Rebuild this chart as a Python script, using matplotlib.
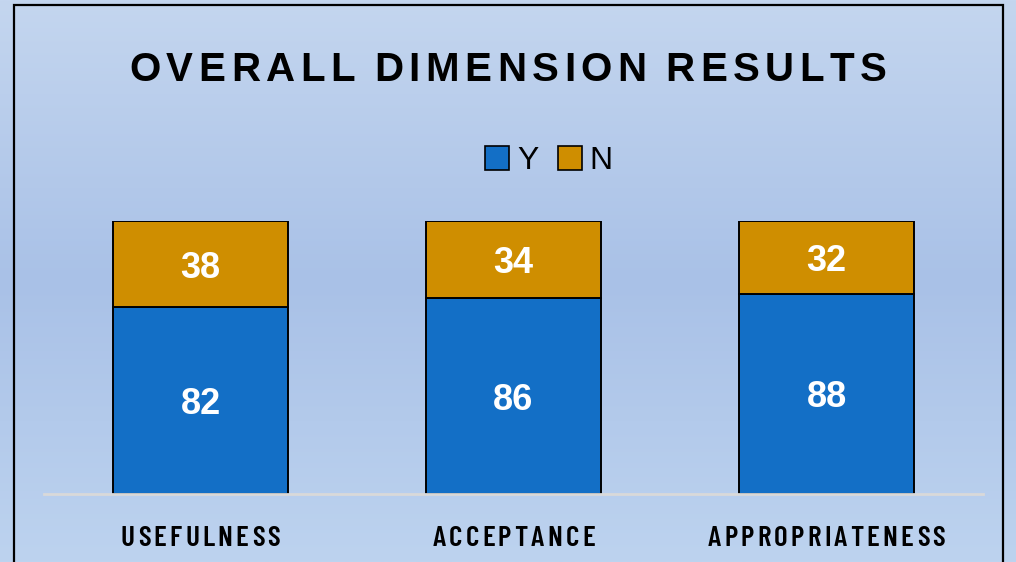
import numpy as np
import matplotlib
matplotlib.use('Agg')
import matplotlib.pyplot as plt
from matplotlib.patches import Rectangle, Patch
from matplotlib.colors import LinearSegmentedColormap
from matplotlib.font_manager import FontProperties, findfont

# ── data ──
categories = ['USEFULNESS', 'ACCEPTANCE', 'APPROPRIATENESS']
yes_vals = [82, 86, 88]
no_vals = [38, 34, 32]
series_names = ['Y', 'N']
title = 'OVERALL DIMENSION RESULTS'

C_Y = '#136FC6'
C_N = '#CF8E00'

W, H = 1016, 562
fig = plt.figure(figsize=(W / 100, H / 100), dpi=100)

def pick_font(names):
    for n in names:
        try:
            findfont(FontProperties(family=n), fallback_to_default=False)
            return n
        except Exception:
            pass
    return 'DejaVu Sans'

NARROW = pick_font(['Barlow Condensed', 'Archivo Narrow', 'Liberation Sans Narrow'])
SANS = pick_font(['Liberation Sans'])

# background gradient
bg = fig.add_axes([0, 0, 1, 1], zorder=-10)
grad_cmap = LinearSegmentedColormap.from_list(
    'bg', [(0, '#C4D6EF'), (0.5, '#A9C1E7'), (1, '#BDD3EF')])
bg.imshow(np.linspace(0, 1, 256).reshape(-1, 1), aspect='auto', cmap=grad_cmap,
          extent=[0, 1, 0, 1], origin='upper')
bg.set_xlim(0, 1); bg.set_ylim(0, 1)
bg.axis('off')
# outer border (bottom edge is cut off in the original)
bg.add_patch(Rectangle((13.5 / W, -0.05), (1003 - 13.5) / W, 1.05 - 5 / H,
                       fill=False, edgecolor='black', linewidth=1.6))

renderer = fig.canvas.get_renderer()

def tracked_text(xc, y_base, s, track, prop):
    """draw text letter by letter with extra letter spacing (pixel coords from top-left)"""
    widths = []
    for c in s:
        if c == ' ':
            widths.append(prop.get_size_in_points() * 0.28)
        else:
            widths.append(renderer.get_text_width_height_descent(c, prop, ismath=False)[0])
    total = sum(widths) + track * (len(s) - 1)
    xx = xc - total / 2
    for c, w in zip(s, widths):
        if c != ' ':
            fig.text(xx / W, 1 - y_base / H, c, fontproperties=prop,
                     ha='left', va='baseline', color='black')
        xx += w + track

# title
tracked_text(508, 81, title, 5.5, FontProperties(family=SANS, weight='bold', size=29))

# main axes: baseline at y=494px, value 120 at y=221px, x from 44 to 983px
ax = fig.add_axes([44 / W, (H - 494) / H, (983 - 44) / W, (494 - 221) / H])
ax.patch.set_alpha(0)
x = np.arange(len(categories))
bw = 0.56
ax.bar(x, yes_vals, bw, color=C_Y, edgecolor='black', linewidth=1.4, label=series_names[0])
ax.bar(x, no_vals, bw, bottom=yes_vals, color=C_N, edgecolor='black', linewidth=1.4,
       label=series_names[1])

vprop = FontProperties(family=SANS, weight='bold', size=26)
for i in range(len(categories)):
    ax.text(x[i], yes_vals[i] / 2, str(yes_vals[i]), ha='center', va='center_baseline',
            color='white', fontproperties=vprop)
    ax.text(x[i], yes_vals[i] + no_vals[i] / 2, str(no_vals[i]), ha='center',
            va='center_baseline', color='white', fontproperties=vprop)

ax.set_xlim(-0.5, 2.5)
ax.set_ylim(0, 120)
for s in ['top', 'left', 'right']:
    ax.spines[s].set_visible(False)
ax.spines['bottom'].set_color('#D9D9D9')
ax.spines['bottom'].set_linewidth(2)
ax.set_yticks([])
ax.set_xticks([])

# category labels
cprop = FontProperties(family=NARROW, weight='semibold', size=21)
for i, c in enumerate(categories):
    xc = 44 + (i + 0.5) * 313
    tracked_text(xc, 546, c, 3.2, cprop)

# legend
handles = [Patch(facecolor=C_Y, edgecolor='black', linewidth=1.2),
           Patch(facecolor=C_N, edgecolor='black', linewidth=1.2)]
fig.legend(handles, series_names, loc='center', bbox_to_anchor=(549 / W, 1 - 161 / H),
           ncol=2, frameon=False, handlelength=0.75, handleheight=0.75,
           handletextpad=0.25, columnspacing=0.6,
           prop={'family': SANS, 'size': 23})

fig.savefig('out.png', dpi=100)
